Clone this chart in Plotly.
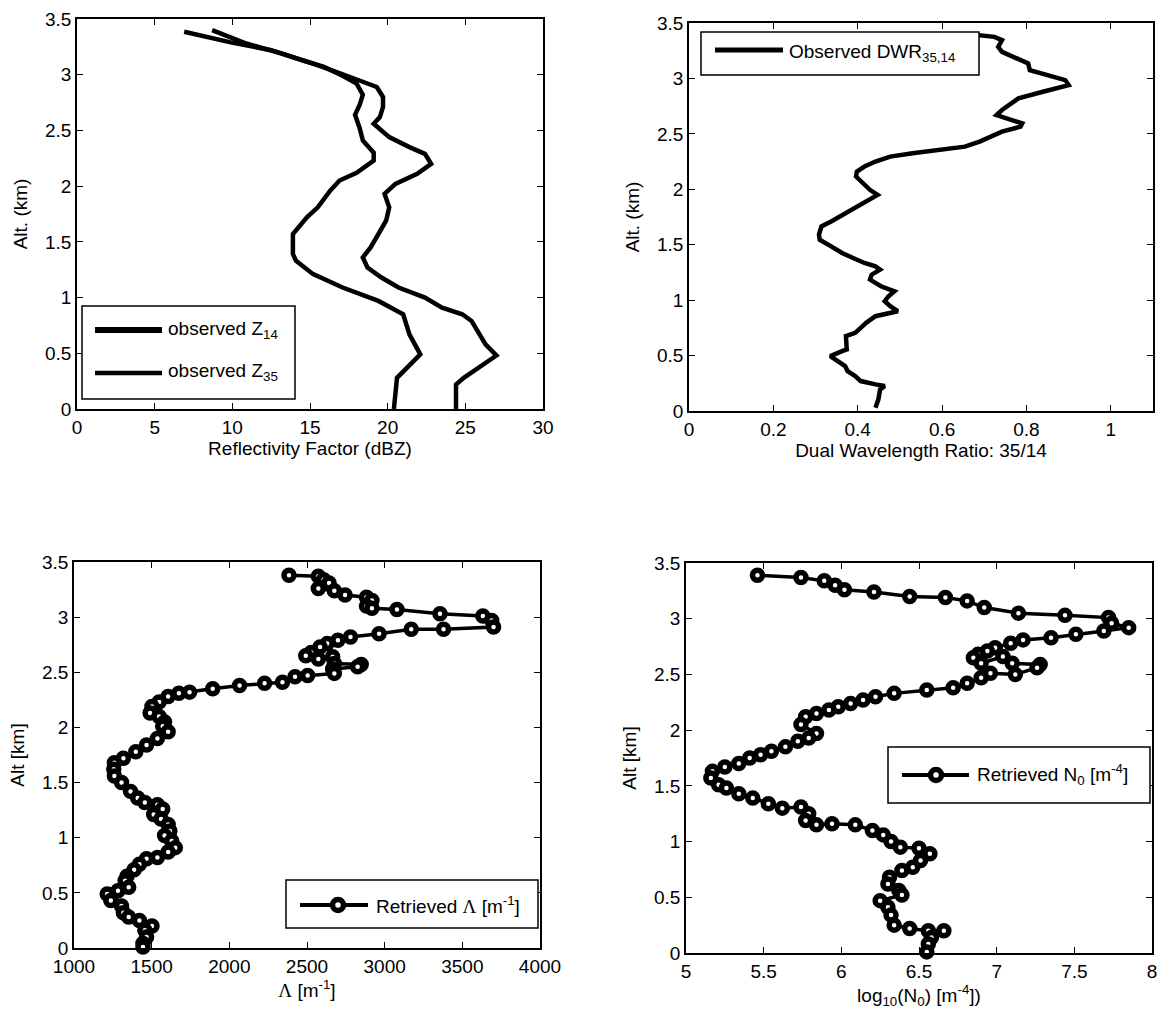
import plotly.graph_objects as go

W, H = 1162, 1014

# ---------------- data ----------------
# Top-left: observed reflectivity profiles (dBZ) vs altitude (km)
alt_z35 = [0.0, 0.28, 0.49, 0.67, 0.85, 0.97, 1.09, 1.21, 1.33, 1.39, 1.57, 1.72, 1.81, 1.96, 2.05, 2.12,
           2.23, 2.30, 2.41, 2.52, 2.64, 2.73, 2.82, 2.92, 2.99, 3.07, 3.13, 3.22, 3.29, 3.386]
z35 = [20.4, 20.6, 22.1, 21.4, 21.0, 19.4, 17.1, 15.2, 14.1, 13.9, 13.9, 14.8, 15.5, 16.3, 16.9, 18.0,
       19.1, 19.1, 18.4, 18.2, 17.9, 18.2, 18.4, 18.0, 17.1, 15.9, 14.5, 12.5, 9.9, 6.9]
alt_z14 = [0.0, 0.22, 0.28, 0.37, 0.48, 0.58, 0.67, 0.79, 0.85, 0.91, 1.0, 1.09, 1.18, 1.27, 1.36, 1.45,
           1.57, 1.69, 1.81, 1.93, 2.02, 2.11, 2.20, 2.29, 2.35, 2.44, 2.56, 2.62, 2.71, 2.80, 2.89, 2.95,
           3.02, 3.10, 3.19, 3.28, 3.40]
z14 = [24.4, 24.4, 24.9, 25.8, 27.0, 26.3, 25.9, 25.4, 24.8, 23.5, 22.4, 20.7, 19.6, 18.7, 18.4, 18.9,
       19.4, 19.9, 20.1, 19.8, 20.5, 21.9, 22.8, 22.4, 21.4, 20.1, 19.1, 19.5, 19.7, 19.7, 19.3, 18.2,
       16.8, 15.2, 13.2, 10.9, 8.7]

# Top-right: observed dual wavelength ratio
alt_dwr = [0.03, 0.105, 0.195, 0.225, 0.24, 0.27, 0.315, 0.36, 0.405, 0.45, 0.495, 0.54, 0.555, 0.675,
           0.705, 0.75, 0.795, 0.855, 0.90, 0.945, 0.99, 1.035, 1.08, 1.125, 1.185, 1.23, 1.275, 1.305,
           1.335, 1.38, 1.425, 1.485, 1.545, 1.59, 1.665, 1.71, 1.785, 1.845, 1.905, 1.95, 1.995, 2.055,
           2.115, 2.16, 2.205, 2.25, 2.295, 2.325, 2.355, 2.385, 2.43, 2.475, 2.52, 2.565, 2.595, 2.63,
           2.67, 2.715, 2.76, 2.82, 2.88, 2.94, 2.985, 3.03, 3.075, 3.135, 3.18, 3.24, 3.285, 3.345,
           3.375, 3.40]
dwr = [0.442, 0.449, 0.453, 0.464, 0.442, 0.407, 0.394, 0.376, 0.37, 0.354, 0.335, 0.363, 0.374, 0.372,
       0.394, 0.407, 0.42, 0.442, 0.495, 0.477, 0.464, 0.473, 0.487, 0.455, 0.429, 0.433, 0.453, 0.442,
       0.416, 0.389, 0.363, 0.337, 0.31, 0.308, 0.314, 0.337, 0.372, 0.398, 0.429, 0.447, 0.429, 0.411,
       0.396, 0.398, 0.416, 0.442, 0.477, 0.53, 0.60, 0.654, 0.689, 0.715, 0.742, 0.786, 0.79, 0.76,
       0.729, 0.742, 0.76, 0.781, 0.839, 0.90, 0.892, 0.848, 0.808, 0.804, 0.778, 0.742, 0.733, 0.742,
       0.724, 0.66]

# Bottom-left: retrieved Lambda (m^-1)
alt_lam = [3.38, 3.37, 3.34, 3.31, 3.26, 3.24, 3.20, 3.18, 3.15, 3.10, 3.08, 3.07, 3.03, 3.01, 2.97, 2.91,
           2.89, 2.89, 2.85, 2.82, 2.79, 2.76, 2.73, 2.68, 2.65, 2.62, 2.64, 2.58, 2.57, 2.55, 2.53, 2.49,
           2.47, 2.46, 2.41, 2.40, 2.38, 2.35, 2.32, 2.31, 2.28, 2.23, 2.19, 2.13, 2.10, 2.05, 2.01, 1.96,
           1.90, 1.84, 1.78, 1.72, 1.68, 1.62, 1.56, 1.50, 1.42, 1.36, 1.32, 1.30, 1.26, 1.21, 1.17, 1.12,
           1.06, 1.02, 0.97, 0.91, 0.87, 0.82, 0.81, 0.76, 0.71, 0.65, 0.61, 0.55, 0.52, 0.49, 0.43, 0.38,
           0.32, 0.28, 0.25, 0.20, 0.16, 0.10, 0.04, 0.01]
lam = [2384, 2573, 2607, 2642, 2573, 2676, 2745, 2883, 2918, 2883, 2918, 3079, 3356, 3632, 3689, 3701,
       3379, 3171, 2964, 2780, 2699, 2630, 2584, 2527, 2492, 2573, 2665, 2676, 2849, 2826, 2665, 2676,
       2504, 2423, 2342, 2227, 2066, 1893, 1744, 1675, 1606, 1548, 1502, 1490, 1548, 1583, 1571, 1606,
       1537, 1467, 1398, 1318, 1260, 1256, 1260, 1306, 1364, 1410, 1456, 1537, 1571, 1513, 1560, 1606,
       1617, 1583, 1629, 1652, 1606, 1537, 1467, 1421, 1387, 1341, 1329, 1352, 1283, 1214, 1237, 1306,
       1318, 1352, 1421, 1502, 1456, 1467, 1444, 1444]

# Bottom-right: retrieved log10(N0)
alt_n0 = [3.39, 3.37, 3.34, 3.30, 3.26, 3.24, 3.20, 3.19, 3.16, 3.10, 3.05, 3.03, 3.01, 2.96, 2.92, 2.89,
          2.86, 2.83, 2.81, 2.78, 2.74, 2.71, 2.68, 2.65, 2.60, 2.66, 2.60, 2.59, 2.56, 2.50, 2.51, 2.47,
          2.42, 2.38, 2.36, 2.33, 2.30, 2.27, 2.24, 2.21, 2.18, 2.15, 2.12, 2.05, 1.97, 1.93, 1.90, 1.85,
          1.81, 1.78, 1.75, 1.70, 1.67, 1.63, 1.57, 1.51, 1.48, 1.43, 1.39, 1.34, 1.30, 1.31, 1.25, 1.19,
          1.15, 1.16, 1.15, 1.10, 1.06, 1.00, 0.95, 0.94, 0.89, 0.83, 0.77, 0.74, 0.68, 0.62, 0.56, 0.52,
          0.47, 0.41, 0.34, 0.25, 0.22, 0.20, 0.20, 0.14, 0.08, 0.01]
log_n0 = [5.46, 5.74, 5.89, 5.96, 6.02, 6.21, 6.44, 6.67, 6.81, 6.92, 7.14, 7.44, 7.72, 7.74, 7.85, 7.69,
          7.51, 7.35, 7.17, 7.09, 6.99, 6.94, 6.88, 6.85, 6.90, 7.04, 7.10, 7.28, 7.26, 7.12, 6.96, 6.90,
          6.81, 6.72, 6.55, 6.34, 6.22, 6.14, 6.06, 5.98, 5.92, 5.84, 5.77, 5.74, 5.84, 5.79, 5.72, 5.64,
          5.55, 5.48, 5.41, 5.34, 5.25, 5.17, 5.16, 5.21, 5.26, 5.34, 5.43, 5.53, 5.62, 5.74, 5.79, 5.77,
          5.84, 5.94, 6.09, 6.20, 6.27, 6.32, 6.38, 6.50, 6.57, 6.51, 6.46, 6.39, 6.31, 6.30, 6.37, 6.39,
          6.25, 6.30, 6.32, 6.34, 6.44, 6.56, 6.66, 6.58, 6.56, 6.55]

alt_ticks = [0, 0.5, 1, 1.5, 2, 2.5, 3, 3.5]

FONT = "Liberation Sans, Arial, Helvetica, sans-serif"
LAMBDA = '<span style="font-family:Liberation Serif, Times New Roman, serif">Λ</span>'


def px(x):
    return x / W


def py(y):
    return 1 - y / H


fig = go.Figure()

line_style = dict(color="black", width=4.5)
mk_line = dict(color="black", width=3.5)
mk = dict(symbol="circle", size=10, color="white", line=dict(color="black", width=5.5))

fig.add_trace(go.Scatter(x=z14, y=alt_z14, mode="lines", line=line_style, name="observed Z14",
                         xaxis="x", yaxis="y", showlegend=False, cliponaxis=False))
fig.add_trace(go.Scatter(x=z35, y=alt_z35, mode="lines", line=line_style, name="observed Z35",
                         xaxis="x", yaxis="y", showlegend=False, cliponaxis=False))
fig.add_trace(go.Scatter(x=dwr, y=alt_dwr, mode="lines", line=line_style, name="Observed DWR35,14",
                         xaxis="x2", yaxis="y2", showlegend=False, cliponaxis=False))
fig.add_trace(go.Scatter(x=lam, y=alt_lam, mode="lines+markers", line=mk_line, marker=mk,
                         name="Retrieved Lambda", xaxis="x3", yaxis="y3", showlegend=False,
                         cliponaxis=False))
fig.add_trace(go.Scatter(x=log_n0, y=alt_n0, mode="lines+markers", line=mk_line, marker=mk,
                         name="Retrieved N0", xaxis="x4", yaxis="y4", showlegend=False,
                         cliponaxis=False))

axis_common = dict(showline=True, linecolor="black", linewidth=1.5, mirror="ticks", ticks="inside",
                   ticklen=6, tickwidth=1.2, tickcolor="black", showgrid=False, zeroline=False,
                   automargin=False,
                   tickfont=dict(family=FONT, size=19, color="black"),
                   title_font=dict(family=FONT, size=19, color="black"))

# plot-area pixel boxes: (left, right, top, bottom)
boxes = {
    1: (77, 543, 19, 409),
    2: (689, 1153, 23, 411),
    3: (74, 540, 562, 948),
    4: (686, 1152, 563, 953),
}


def dom(b):
    l, r, t, bt = b
    return [px(l), px(r)], [py(bt), py(t)]


xd1, yd1 = dom(boxes[1])
xd2, yd2 = dom(boxes[2])
xd3, yd3 = dom(boxes[3])
xd4, yd4 = dom(boxes[4])

fig.update_layout(
    template="none",
    width=W, height=H, margin=dict(l=0, r=0, t=0, b=0, pad=0),
    paper_bgcolor="white", plot_bgcolor="white",
    font=dict(family=FONT, size=19, color="black"),
    xaxis=dict(axis_common, domain=xd1, anchor="y", range=[0, 30], tickvals=[0, 5, 10, 15, 20, 25, 30],
               title=dict(text="Reflectivity Factor (dBZ)", standoff=2)),
    yaxis=dict(axis_common, domain=yd1, anchor="x", range=[0, 3.5], tickvals=alt_ticks,
               title=dict(text="Alt. (km)", standoff=12)),
    xaxis2=dict(axis_common, domain=xd2, anchor="y2", range=[0, 1.1],
                tickvals=[0, 0.2, 0.4, 0.6, 0.8, 1],
                title=dict(text="Dual Wavelength Ratio: 35/14", standoff=2)),
    yaxis2=dict(axis_common, domain=yd2, anchor="x2", range=[0, 3.5], tickvals=alt_ticks,
                title=dict(text="Alt. (km)", standoff=12)),
    xaxis3=dict(axis_common, domain=xd3, anchor="y3", range=[1000, 4000],
                tickvals=[1000, 1500, 2000, 2500, 3000, 3500, 4000],
                title=dict(text=LAMBDA + " [m<sup>-1</sup>]", standoff=2)),
    yaxis3=dict(axis_common, domain=yd3, anchor="x3", range=[0, 3.5], tickvals=alt_ticks,
                title=dict(text="Alt [km]", standoff=12)),
    xaxis4=dict(axis_common, domain=xd4, anchor="y4", range=[5, 8],
                tickvals=[5, 5.5, 6, 6.5, 7, 7.5, 8],
                title=dict(text="log<sub>10</sub>(N<sub>0</sub>) [m<sup>-4</sup>])", standoff=2)),
    yaxis4=dict(axis_common, domain=yd4, anchor="x4", range=[0, 3.5], tickvals=alt_ticks,
                title=dict(text="Alt [km]", standoff=12)),
)

shapes = []
annotations = []


def legend_box(l, r, t, b):
    shapes.append(dict(type="rect", xref="paper", yref="paper", x0=px(l), x1=px(r), y0=py(b), y1=py(t),
                       line=dict(color="black", width=1.5), fillcolor="white", layer="above"))


def legend_line(x0, x1, y, w):
    shapes.append(dict(type="line", xref="paper", yref="paper", x0=px(x0), x1=px(x1), y0=py(y), y1=py(y),
                       line=dict(color="black", width=w), layer="above"))


def legend_marker(x, y, r=5.5):
    shapes.append(dict(type="circle", xref="paper", yref="paper", x0=px(x - r), x1=px(x + r),
                       y0=py(y + r), y1=py(y - r), line=dict(color="black", width=5.5),
                       fillcolor="white", layer="above"))


def legend_text(x, y, text):
    annotations.append(dict(xref="paper", yref="paper", x=px(x), y=py(y), text=text, showarrow=False,
                            xanchor="left", yanchor="middle", font=dict(family=FONT, size=19, color="black")))


# top-left legend
legend_box(82, 295, 306, 399)
legend_line(95, 162, 330, 6)
legend_line(95, 162, 373, 4.5)
legend_text(166, 330, "observed Z<sub>14</sub>")
legend_text(166, 372, "observed Z<sub>35</sub>")

# top-right legend
legend_box(701, 979, 32, 75)
legend_line(715, 783, 50, 5)
legend_text(787, 53, "Observed DWR<sub>35,14</sub>")

# bottom-left legend
legend_box(286, 538, 880, 928)
legend_line(300, 368, 905, 4)
legend_marker(338, 905)
legend_text(374, 905, "Retrieved " + LAMBDA + " [m<sup>-1</sup>]")

# bottom-right legend
legend_box(888, 1150, 747, 803)
legend_line(902, 969, 775, 4)
legend_marker(936, 775)
legend_text(975, 774, "Retrieved N<sub>0</sub> [m<sup>-4</sup>]")

fig.update_layout(shapes=shapes, annotations=annotations)

fig.write_html("out.html")
